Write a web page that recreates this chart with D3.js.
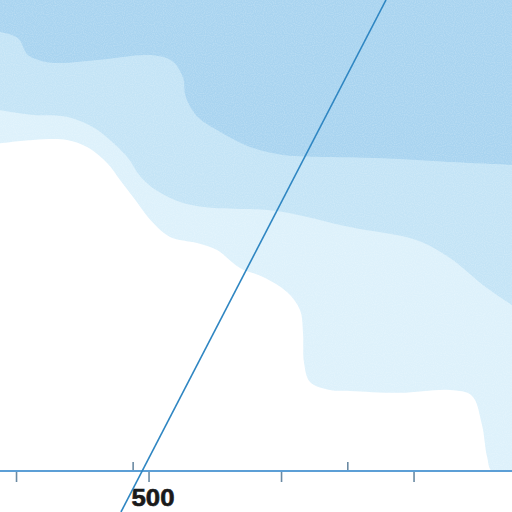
<!DOCTYPE html>
<html>
<head>
<meta charset="utf-8">
<script src="https://cdn.jsdelivr.net/npm/d3@7"></script>
<style>
  html, body { margin: 0; padding: 0; background: #ffffff; overflow: hidden; }
  svg { display: block; }
</style>
</head>
<body>
<svg id="chart" width="512" height="512"></svg>
<script>
// ---- data (distance in km along x, relative height along y) ----
const xTicks = [400, 500, 600, 700];          // km ticks below the axis
const mileTicks = [300, 400];                  // secondary ticks above the axis
const mileTicksKm = [488, 650];                // where those secondary ticks fall in km

// upper edge of the darkest band (band reaches up to the top)
const bandDark = [
  [387.9, 93.2], [401.5, 91.9], [409.0, 88.3], [420.0, 87.0], [433.2, 86.6], [463.4, 87.3],
  [501.1, 88.3], [518.0, 87.0], [526.0, 83.5], [528.0, 79.5], [536.0, 75.5],
  [551.7, 72.4], [576.6, 68.8], [601.5, 67.1], [627.2, 66.7], [677.0, 66.4],
  [727.5, 65.6], [774.3, 65.0]
];
// edge of the medium band
const bandMid = [
  [387.9, 76.6], [412.8, 75.6], [438.5, 75.2], [458.1, 73.0], [470.9, 70.3],
  [483.8, 66.7], [494.0, 62.5], [506.4, 59.5], [526.0, 56.9], [551.7, 55.8],
  [576.6, 55.6], [601.5, 55.0], [652.0, 51.8], [702.6, 49.0], [727.5, 45.2],
  [752.4, 39.5], [774.3, 35.2]
];
// edge of the lightest band (white below)
const bandLight = [
  [387.9, 69.6], [412.8, 70.3], [438.5, 70.3], [453.6, 68.8], [468.7, 65.4],
  [478.5, 61.8], [488.3, 58.2], [503.4, 52.7], [516.2, 49.7], [536.6, 48.4],
  [551.7, 46.9], [569.0, 43.1], [586.4, 41.2], [604.5, 38.0], [614.3, 34.2],
  [616.6, 29.3], [617.3, 23.1], [621.9, 18.9], [637.0, 17.2], [652.0, 17.0],
  [689.8, 16.6], [727.5, 17.2], [744.0, 16.0], [751.5, 10.0], [755.5, 3.0],
  [759.0, 0], [774.3, 0]
];
// straight section line
const sectionLine = [[479.2, -8.7], [679.2, 100]];

const bandColors = ["#ddf1fb", "#c4e4f6", "#a9d4f0"];

// ---- layout ----
const W = 512, H = 512;
const axisY = 471;
const svg = d3.select("#chart");

const x = d3.scaleLinear().domain([387.9, 774.3]).range([0, W]);
const y = d3.scaleLinear().domain([0, 100]).range([axisY, 0]);
const xMiles = d3.scaleLinear().domain(mileTicks).range(mileTicksKm.map(x));

svg.append("rect").attr("width", W).attr("height", H).attr("fill", "#ffffff");

const defs = svg.append("defs");
defs.append("clipPath").attr("id", "plotclip")
  .append("rect").attr("x", 0).attr("y", 0).attr("width", W).attr("height", axisY);

const area = d3.area()
  .x(d => x(d[0]))
  .y0(d => y(d[1]))
  .y1(() => y(120))
  .curve(d3.curveCatmullRom.alpha(0.5));

const bands = [bandLight, bandMid, bandDark];
const g = svg.append("g").attr("clip-path", "url(#plotclip)");
g.selectAll("path.band")
  .data(bands)
  .join("path")
  .attr("class", "band")
  .attr("d", area)
  .attr("fill", (d, i) => bandColors[i]);

// subtle print grain
const f = defs.append("filter").attr("id", "grain").attr("x", 0).attr("y", 0).attr("width", 1).attr("height", 1);
f.append("feTurbulence").attr("type", "fractalNoise").attr("baseFrequency", 0.9).attr("numOctaves", 1).attr("seed", 3).attr("result", "n");
f.append("feColorMatrix").attr("in", "n").attr("type", "matrix")
  .attr("values", "0 0 0 0 1  0 0 0 0 1  0 0 0 0 1  0 0 0 -1.6 1.0");
g.append("rect").attr("width", W).attr("height", axisY)
  .attr("filter", "url(#grain)").attr("opacity", 0.25);

// axis below
const axisB = d3.axisBottom(x)
  .tickValues(xTicks)
  .tickSize(11)
  .tickFormat(d => d % 500 === 0 ? String(d) : "");
const ga = svg.append("g").attr("transform", `translate(0,${axisY})`).call(axisB);
ga.select(".domain").remove();
ga.selectAll(".tick line").attr("stroke", "#6a8aa3").attr("stroke-width", 1.6);
ga.selectAll(".tick text")
  .attr("fill", "#1a1a1a")
  .attr("stroke", "#1a1a1a")
  .attr("stroke-width", 0.6)
  .attr("font-family", "'Liberation Sans', Arial, sans-serif")
  .attr("font-weight", "bold")
  .attr("font-size", 24)
  .attr("y", 35)
  .attr("dy", 0)
  .attr("dx", 4)
  .each(function () {
    const t = d3.select(this);
    if (t.text()) t.attr("textLength", 43).attr("lengthAdjust", "spacingAndGlyphs");
  });

// axis above (secondary units)
const axisT = d3.axisTop(xMiles).tickValues(mileTicks).tickSize(9).tickFormat("");
const gt = svg.append("g").attr("transform", `translate(0,${axisY})`).call(axisT);
gt.select(".domain").remove();
gt.selectAll(".tick line").attr("stroke", "#6a8aa3").attr("stroke-width", 1.6);

// baseline
svg.append("line")
  .attr("x1", 0).attr("x2", W)
  .attr("y1", axisY).attr("y2", axisY)
  .attr("stroke", "#5c9fd6").attr("stroke-width", 2);

// section line
svg.append("path")
  .datum(sectionLine)
  .attr("d", d3.line().x(d => x(d[0])).y(d => y(d[1])))
  .attr("fill", "none")
  .attr("stroke", "#2f86c2")
  .attr("stroke-width", 1.6);
</script>
</body>
</html>
